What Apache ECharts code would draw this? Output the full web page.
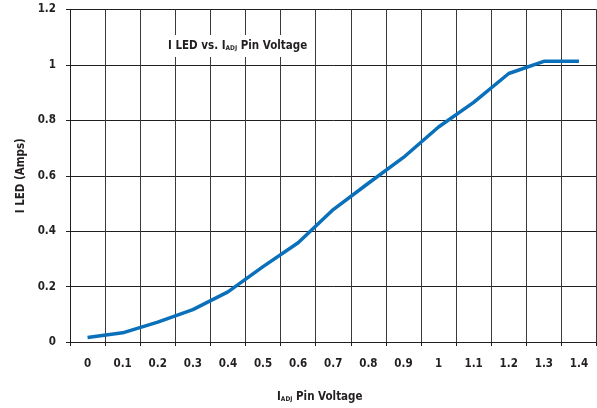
<!DOCTYPE html>
<html>
<head>
<meta charset="utf-8">
<script src="https://cdn.jsdelivr.net/npm/echarts@6/dist/echarts.min.js"></script>
<style>
html,body{margin:0;padding:0;background:#fff;}
#main{width:597px;height:408px;}
</style>
</head>
<body>
<div id="main"></div>
<script>
var categories = ['0','0.1','0.2','0.3','0.4','0.5','0.6','0.7','0.8','0.9','1','1.1','1.2','1.3','1.4'];
var ledCurrent = [0.016, 0.033, 0.072, 0.117, 0.181, 0.272, 0.358, 0.478, 0.573, 0.666, 0.776, 0.865, 0.969, 1.013, 1.013];
var yTicks = {min: 0, max: 1.2, interval: 0.2};

var FONT = "'Liberation Sans Narrow', 'DejaVu Sans Condensed', 'Liberation Sans', sans-serif";
var FS = 11.5;
var chart = echarts.init(document.getElementById('main'), null, {renderer: 'canvas'});
chart.setOption({
  backgroundColor: '#fff',
  animation: false,
  textStyle: {fontFamily: FONT},
  title: {
    text: '{m|I LED vs. I}{s|ADJ}{m| Pin Voltage}',
    left: 164,
    top: 32,
    padding: [5, 4, 5, 4],
    backgroundColor: '#fff',
    textStyle: {
      rich: {
        m: {fontFamily: FONT, fontWeight: 'bold', fontSize: FS, color: '#231f20', verticalAlign: 'bottom', lineHeight: 15},
        s: {fontFamily: FONT, fontWeight: 'bold', fontSize: 6.5, color: '#231f20', verticalAlign: 'bottom', lineHeight: 11}
      }
    }
  },
  grid: {left: 70, top: 9.5, width: 526.5, height: 334.5, containLabel: false},
  xAxis: {
    type: 'category',
    data: categories,
    boundaryGap: true,
    name: '{m|I}{s|ADJ}{m| Pin Voltage}',
    nameLocation: 'middle',
    nameGap: 46,
    nameTextStyle: {
      padding: [0, 27, 0, 0],
      rich: {
        m: {fontFamily: FONT, fontWeight: 'bold', fontSize: FS, color: '#231f20', verticalAlign: 'bottom', lineHeight: 15},
        s: {fontFamily: FONT, fontWeight: 'bold', fontSize: 6.5, color: '#231f20', verticalAlign: 'bottom', lineHeight: 11}
      }
    },
    axisLine: {show: true, lineStyle: {color: '#231f20', width: 1}},
    axisTick: {show: true, length: 4, lineStyle: {color: '#231f20'}},
    axisLabel: {margin: 16, fontFamily: FONT, fontWeight: 'bold', fontSize: FS, color: '#231f20'},
    splitLine: {show: true, lineStyle: {color: '#3a3a3a', width: 1}}
  },
  yAxis: {
    type: 'value',
    min: yTicks.min,
    max: yTicks.max,
    interval: yTicks.interval,
    name: 'I LED (Amps)',
    nameLocation: 'middle',
    nameRotate: 90,
    nameGap: 34,
    nameTextStyle: {fontFamily: FONT, fontWeight: 'bold', fontSize: FS, color: '#231f20'},
    axisLine: {show: true, lineStyle: {color: '#231f20', width: 1}},
    axisTick: {show: true, length: 4, lineStyle: {color: '#231f20'}},
    axisLabel: {margin: 14, fontFamily: FONT, fontWeight: 'bold', fontSize: FS, color: '#231f20'},
    splitLine: {show: true, lineStyle: {color: '#231f20', width: 1}}
  },
  series: [{
    type: 'line',
    data: ledCurrent,
    symbol: 'none',
    smooth: false,
    lineStyle: {color: '#0a70ba', width: 3.5},
    z: 3
  }]
});
</script>
</body>
</html>
